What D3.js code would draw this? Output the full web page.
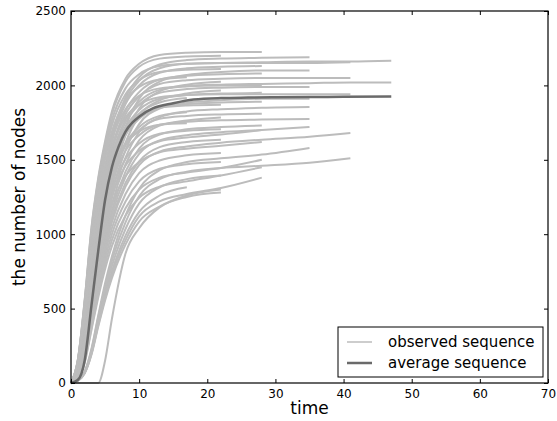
<!DOCTYPE html>
<html>
<head>
<meta charset="utf-8">
<script src="https://cdn.jsdelivr.net/npm/d3@7"></script>
<style>
  body { margin: 0; background: #fff; }
  text { font-family: "DejaVu Sans", sans-serif; }
</style>
</head>
<body>
<svg width="557" height="421"></svg>
<script>
const svg = d3.select("svg");

const width = +svg.attr("width");
const height = +svg.attr("height");

// sample times shared by every observed sequence (a sequence stops where its list ends)
const gridTimes = [0, 1, 2, 3, 4, 5, 6, 8, 10, 13, 17, 22, 28, 35, 41, 47];

// observed sequences
const observed = [
    [0, 155, 555, 1045, 1380, 1625, 1825, 2045, 2145, 2205, 2220, 2225, 2225],
    [0, 155, 550, 1035, 1365, 1605, 1805, 2025, 2125, 2180, 2195, 2200],
    [0, 85, 370, 810, 1160, 1440, 1660, 1920, 2055, 2140, 2170, 2180, 2185, 2190],
    [0, 85, 365, 800, 1145, 1425, 1640, 1900, 2030, 2115, 2145, 2150, 2155, 2160, 2160, 2165],
    [0, 150, 540, 1010, 1335, 1570, 1765, 1980, 2075, 2130, 2145, 2150, 2150, 2150, 2155],
    [0, 85, 360, 790, 1130, 1405, 1620, 1875, 2000, 2085, 2115, 2125, 2130],
    [0, 150, 530, 990, 1310, 1540, 1730, 1940, 2035, 2090, 2105, 2110],
    [0, 40, 210, 545, 880, 1175, 1405, 1720, 1910, 2025, 2070, 2090, 2100, 2100],
    [0, 85, 355, 770, 1100, 1375, 1580, 1830, 1955, 2040, 2065, 2075, 2080],
    [0, 145, 515, 970, 1275, 1505, 1690, 1895, 1990, 2040, 2055],
    [0, 80, 350, 760, 1085, 1355, 1560, 1805, 1925, 2010, 2035, 2045, 2050, 2050, 2050],
    [0, 40, 205, 530, 855, 1135, 1360, 1665, 1845, 1960, 2005, 2025],
    [0, 80, 340, 745, 1065, 1325, 1530, 1770, 1890, 1970, 1995, 2005, 2010, 2015, 2020, 2020],
    [0, 140, 500, 940, 1240, 1460, 1640, 1840, 1930, 1980, 1995, 2000, 2000],
    [0, 80, 340, 735, 1055, 1315, 1510, 1750, 1870, 1950, 1975, 1985, 1990, 1990],
    [0, 40, 195, 510, 830, 1105, 1320, 1615, 1795, 1900, 1945, 1965],
    [0, 80, 330, 720, 1035, 1285, 1480, 1715, 1835, 1910, 1935, 1945, 1950],
    [0, 135, 485, 910, 1205, 1415, 1590, 1785, 1870, 1920, 1935, 1940, 1940, 1940, 1940],
    [0, 75, 325, 710, 1020, 1270, 1465, 1695, 1810, 1885, 1915],
    [0, 40, 190, 495, 800, 1070, 1280, 1565, 1740, 1845, 1885, 1900, 1910, 1910],
    [0, 75, 320, 700, 1000, 1250, 1435, 1665, 1775, 1850, 1875, 1885, 1890],
    [0, 130, 470, 880, 1160, 1365, 1535, 1720, 1805, 1850, 1865, 1870],
    [0, 35, 185, 480, 775, 1035, 1240, 1515, 1685, 1785, 1825, 1840, 1850, 1855],
    [0, 75, 310, 675, 970, 1210, 1390, 1610, 1720, 1795, 1820],
    [0, 70, 310, 670, 960, 1195, 1375, 1595, 1700, 1775, 1795, 1805, 1810],
    [0, 35, 180, 465, 750, 1000, 1200, 1470, 1630, 1730, 1765, 1785],
    [0, 70, 300, 655, 940, 1170, 1345, 1560, 1665, 1735, 1755, 1765, 1770, 1775],
    [0, 125, 440, 825, 1085, 1280, 1435, 1610, 1690, 1735, 1745],
    [0, 35, 175, 450, 725, 970, 1160, 1420, 1575, 1670, 1705, 1720, 1730],
    [0, 70, 290, 635, 905, 1130, 1300, 1505, 1610, 1675, 1695, 1705],
    [0, 35, 170, 440, 710, 945, 1130, 1385, 1540, 1630, 1665, 1685, 1700, 1720],
    [0, 65, 280, 615, 880, 1095, 1260, 1460, 1560, 1625, 1650, 1670, 1700],
    [0, 35, 165, 425, 690, 920, 1100, 1345, 1490, 1585, 1620, 1635],
    [0, 30, 160, 420, 675, 900, 1080, 1320, 1465, 1555, 1590, 1615, 1635, 1655, 1680],
    [0, 65, 270, 585, 835, 1045, 1200, 1390, 1485, 1550, 1575, 1595, 1620],
    [0, 30, 155, 405, 650, 870, 1040, 1270, 1410, 1495, 1530, 1545],
    [0, 15, 75, 230, 455, 670, 850, 1125, 1305, 1430, 1485, 1510, 1535, 1580],
    [0, 30, 150, 390, 625, 835, 1000, 1220, 1355, 1440, 1470, 1485],
    [0, 15, 75, 220, 440, 640, 820, 1080, 1255, 1370, 1420, 1445, 1460, 1480, 1510],
    [0, 30, 145, 370, 600, 800, 960, 1175, 1300, 1380, 1415, 1445, 1500],
    [0, 15, 70, 210, 420, 615, 785, 1035, 1205, 1315, 1370, 1395],
    [0, 25, 135, 355, 575, 765, 920, 1125, 1245, 1320, 1355, 1395, 1450],
    [0, 15, 65, 200, 400, 590, 750, 990, 1150, 1260, 1315],
    [0, 15, 65, 195, 390, 570, 730, 960, 1120, 1220, 1270, 1310, 1380],
    [0, 15, 65, 190, 380, 555, 705, 930, 1085, 1185, 1260, 1300],
    [0, 0, 0, 0, 0, 150, 430, 870, 1040, 1180, 1250, 1280]
];

// average sequence
const avgTimes = [0, 1, 2, 3, 4, 5, 6, 7, 8, 9, 10, 12, 15, 18, 22, 26, 30, 35, 40, 47];
const avgValues = [0, 20, 150, 520, 890, 1230, 1450, 1590, 1690, 1750, 1790, 1845, 1880, 1905, 1915, 1918, 1920, 1922, 1923, 1925];

const xTicks = [0, 10, 20, 30, 40, 50, 60, 70];
const yTicks = [0, 500, 1000, 1500, 2000, 2500];
const legendLabels = ["observed sequence", "average sequence"];

const margin = { top: 11, right: 9, bottom: 38, left: 71 };
const innerW = width - margin.left - margin.right;
const innerH = height - margin.top - margin.bottom;

const xScale = d3.scaleLinear().domain([0, 70]).range([0, innerW]);
const yScale = d3.scaleLinear().domain([0, 2500]).range([innerH, 0]);

const plot = svg.append("g")
    .attr("transform", `translate(${margin.left},${margin.top})`);

const line = d3.line()
    .x(d => xScale(d[0]))
    .y(d => yScale(d[1]))
    .curve(d3.curveMonotoneX);

const obsColour = "#bcbcbc";
const avgColour = "#6a6a6a";

// observed sequences
plot.append("g").selectAll("path").data(observed)
    .enter().append("path")
    .attr("d", seq => line(seq.map((v, i) => [gridTimes[i], v])))
    .attr("fill", "none")
    .attr("stroke", obsColour)
    .attr("stroke-width", 2);

// average sequence
plot.append("path")
    .attr("d", line(avgTimes.map((t, i) => [t, avgValues[i]])))
    .attr("fill", "none")
    .attr("stroke", avgColour)
    .attr("stroke-width", 2.5);

// axes, ticks pointing inward on all four sides
const styleAxis = g => {
    g.select(".domain").remove();
    g.selectAll(".tick line").attr("stroke", "#000");
    g.selectAll("text").attr("fill", "#000")
        .style("font-size", "12px")
        .style("font-family", "'DejaVu Sans', sans-serif");
};

plot.append("g")
    .attr("transform", `translate(0,${innerH})`)
    .call(d3.axisBottom(xScale).tickValues(xTicks).tickFormat(d3.format("d"))
        .tickSize(-4).tickPadding(6))
    .call(styleAxis);
plot.append("g")
    .call(d3.axisTop(xScale).tickValues(xTicks).tickSize(-4).tickFormat(""))
    .call(styleAxis);
plot.append("g")
    .call(d3.axisLeft(yScale).tickValues(yTicks).tickFormat(d3.format("d"))
        .tickSize(-4).tickPadding(5))
    .call(styleAxis);
plot.append("g")
    .attr("transform", `translate(${innerW},0)`)
    .call(d3.axisRight(yScale).tickValues(yTicks).tickSize(-4).tickFormat(""))
    .call(styleAxis);

// frame
plot.append("rect")
    .attr("width", innerW)
    .attr("height", innerH)
    .attr("fill", "none")
    .attr("stroke", "#000")
    .attr("stroke-width", 1.2);

// axis labels
svg.append("text")
    .attr("x", margin.left + innerW / 2)
    .attr("y", 414)
    .attr("text-anchor", "middle")
    .style("font-size", "17px")
    .text("time");

svg.append("text")
    .attr("transform", `translate(25,${margin.top + innerH / 2}) rotate(-90)`)
    .attr("text-anchor", "middle")
    .style("font-size", "17px")
    .text("the number of nodes");

// legend
const legend = svg.append("g").attr("transform", "translate(338,327)");
legend.append("rect")
    .attr("width", 205)
    .attr("height", 50)
    .attr("fill", "#fff")
    .attr("stroke", "#000")
    .attr("stroke-width", 1);

const legendStyles = [
    { stroke: obsColour, width: 1.5 },
    { stroke: avgColour, width: 2.5 }
];

legendLabels.forEach((label, i) => {
    const row = legend.append("g").attr("transform", `translate(0,${15 + i * 21})`);
    row.append("line")
        .attr("x1", 9).attr("x2", 34)
        .attr("stroke", legendStyles[i].stroke)
        .attr("stroke-width", legendStyles[i].width);
    row.append("text")
        .attr("x", 50)
        .attr("dy", "0.35em")
        .style("font-size", "15px")
        .text(label);
});
</script>
</body>
</html>
